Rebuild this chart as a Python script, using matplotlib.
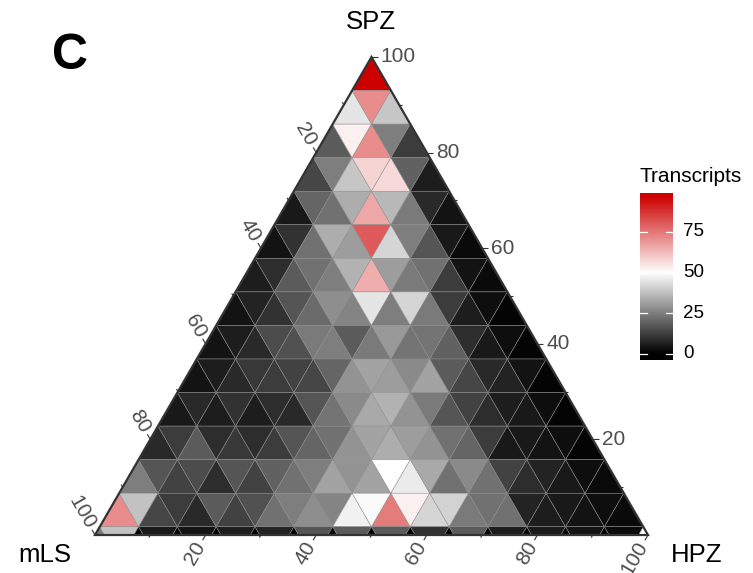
import numpy as np
import matplotlib
matplotlib.use("Agg")
import matplotlib.pyplot as plt
from matplotlib.colors import LinearSegmentedColormap, Normalize
from matplotlib.collections import PolyCollection
from matplotlib.patches import Polygon

plt.rcParams['font.family'] = ['Liberation Sans', 'DejaVu Sans']

# transcripts per triangular bin, one list per row going down from the SPZ corner;
# within a row cells alternate up / down triangles from left to right
row_00 = [97]
row_01 = [45, 71, 39]
row_02 = [18, 53, 71, 25, 12]
row_03 = [14, 25, 39, 58, 57, 19, 6]
row_04 = [5, 20, 22, 34, 66, 36, 24, 8, 4]
row_05 = [4, 10, 22, 34, 31, 80, 42, 25, 17, 5, 2]
row_06 = [6, 9, 18, 22, 25, 35, 65, 31, 24, 22, 12, 4, 2]
row_07 = [4, 7, 10, 17, 21, 28, 26, 45, 25, 42, 24, 12, 6, 3, 1]
row_08 = [4, 6, 8, 15, 16, 24, 25, 18, 24, 30, 23, 23, 19, 9, 5, 3, 1]
row_09 = [4, 6, 8, 11, 12, 13, 14, 20, 29, 32, 31, 27, 32, 18, 14, 8, 7, 4, 1]
row_10 = [5, 8, 6, 10, 6, 9, 8, 17, 23, 27, 33, 35, 29, 24, 17, 13, 9, 6, 5, 3, 1]
row_11 = [8, 12, 18, 9, 11, 9, 12, 17, 20, 22, 29, 32, 34, 31, 29, 22, 20, 12,
          5, 5, 4, 3, 1]
row_12 = [25, 17, 13, 15, 9, 17, 13, 19, 22, 25, 32, 29, 32, 50, 46, 33, 22, 27,
          22, 13, 9, 7, 5, 3, 2]
row_13 = [71, 38, 14, 12, 8, 18, 13, 16, 22, 25, 28, 26, 47, 49, 74, 53, 42, 41,
          24, 22, 22, 7, 6, 5, 4, 3, 2]
row_14 = [24, 38, 0, 5, 0, 4, 0, 6, 0, 7, 0, 17, 0, 18, 0, 18, 0, 10, 0, 18,
          0, 6, 0, 5, 0, 4, 0, 2, np.nan]
rows = [row_00, row_01, row_02, row_03, row_04, row_05, row_06, row_07,
        row_08, row_09, row_10, row_11, row_12, row_13, row_14]

axis_ticks = [10, 20, 30, 40, 50, 60, 70, 80, 90, 100]
cbar_ticks = [0, 25, 50, 75]
vmin, vmid, vmax = 0, 50, 97

H = np.sqrt(3) / 2
BIN = 0.0702  # bin size as a fraction of each axis

cmap = LinearSegmentedColormap.from_list(
    'transcripts', [(0, 'black'), (vmid / vmax, 'white'), (1, '#CD0000')])
norm = Normalize(vmin, vmax)

fig = plt.figure(figsize=(7.53, 5.73), dpi=100)
ax = fig.add_axes([95 / 753, 38 / 573, 553 / 753, 478 / 573])
ax.set_xlim(0, 1)
ax.set_ylim(0, H)
ax.axis('off')

# build the triangle cells
verts, vals = [], []
for k, row in enumerate(rows):
    y0 = H - k * BIN * H
    y1 = y0 - BIN * H
    left = 0.5 - k * BIN / 2
    for j, v in enumerate(row):
        if np.isnan(v):
            continue
        x = left + (j // 2) * BIN
        if j % 2 == 0:
            verts.append([(x, y0), (x - BIN / 2, y1), (x + BIN / 2, y1)])
        else:
            verts.append([(x, y0), (x + BIN, y0), (x + BIN / 2, y1)])
        vals.append(v)

coll = PolyCollection(verts, array=np.array(vals), cmap=cmap, norm=norm,
                      edgecolors='#8c8c8c', linewidths=0.35)
ax.add_collection(coll)
frame = Polygon([(0, 0), (1, 0), (0.5, H)], closed=True, transform=ax.transData)
coll.set_clip_path(frame)
ax.add_patch(Polygon([(0, 0), (1, 0), (0.5, H)], closed=True, fill=False,
                     ec='#333333', lw=1.6, joinstyle='miter', clip_on=False))

# ticks and labels on the three edges
px = 1 / 553
tick_col = '#333333'
lab_col = '#4d4d4d'
c120 = np.array([np.cos(np.radians(120)), np.sin(np.radians(120))])
c240 = np.array([np.cos(np.radians(240)), np.sin(np.radians(240))])
for t in axis_ticks:
    f = t / 100
    major = t % 20 == 0
    ln = (6 if major else 3) * px
    specs = [
        (np.array([1 - f / 2, f * H]), np.array([1.0, 0.0]), 0, 'left'),      # SPZ
        (np.array([0.5 * (1 - f), H * (1 - f)]), c120, -60, 'right'),         # mLS
        (np.array([f, 0.0]), c240, 60, 'right'),                              # HPZ
    ]
    for p, d, rot, ha in specs:
        q = p + d * ln
        ax.plot([p[0], q[0]], [p[1], q[1]], color=tick_col, lw=0.8,
                clip_on=False, solid_capstyle='butt')
        if major:
            lp = p + d * 9 * px
            ax.text(lp[0], lp[1], str(t), rotation=rot, rotation_mode='anchor',
                    ha=ha, va='center', fontsize=15, color=lab_col, clip_on=False)

fig.text(371 / 753, 1 - 22 / 573, 'SPZ', ha='center', va='center', fontsize=18.5)
fig.text(45 / 753, 1 - 555 / 573, 'mLS', ha='center', va='center', fontsize=18.5)
fig.text(697 / 753, 1 - 555 / 573, 'HPZ', ha='center', va='center', fontsize=18.5)
fig.text(70 / 753, 1 - 56 / 573, 'C', ha='center', va='center', fontsize=36,
         fontweight='bold')

# colour bar
cax = fig.add_axes([640 / 753, 1 - 360 / 573, 33 / 753, 167 / 573])
lo, hi = -3.7, 98.8
grad = np.linspace(lo, hi, 400).reshape(-1, 1)
cax.imshow(grad, cmap=cmap, norm=norm, aspect='auto', origin='lower',
           extent=(0, 1, lo, hi))
cax.set_xlim(0, 1)
cax.set_ylim(lo, hi)
for s in cax.spines.values():
    s.set_visible(False)
cax.set_xticks([])
cax.set_yticks([])
for v in cbar_ticks:
    cax.plot([0, 0.2], [v, v], color='white', lw=0.9)
    cax.plot([0.8, 1], [v, v], color='white', lw=0.9)
    cax.text(1.3, v, str(v), ha='left', va='center', fontsize=13.5,
             transform=cax.transData, clip_on=False)
fig.text(640 / 753, 1 - 177 / 573, 'Transcripts', ha='left', va='center',
         fontsize=15)

fig.savefig('out.png', dpi=100)
